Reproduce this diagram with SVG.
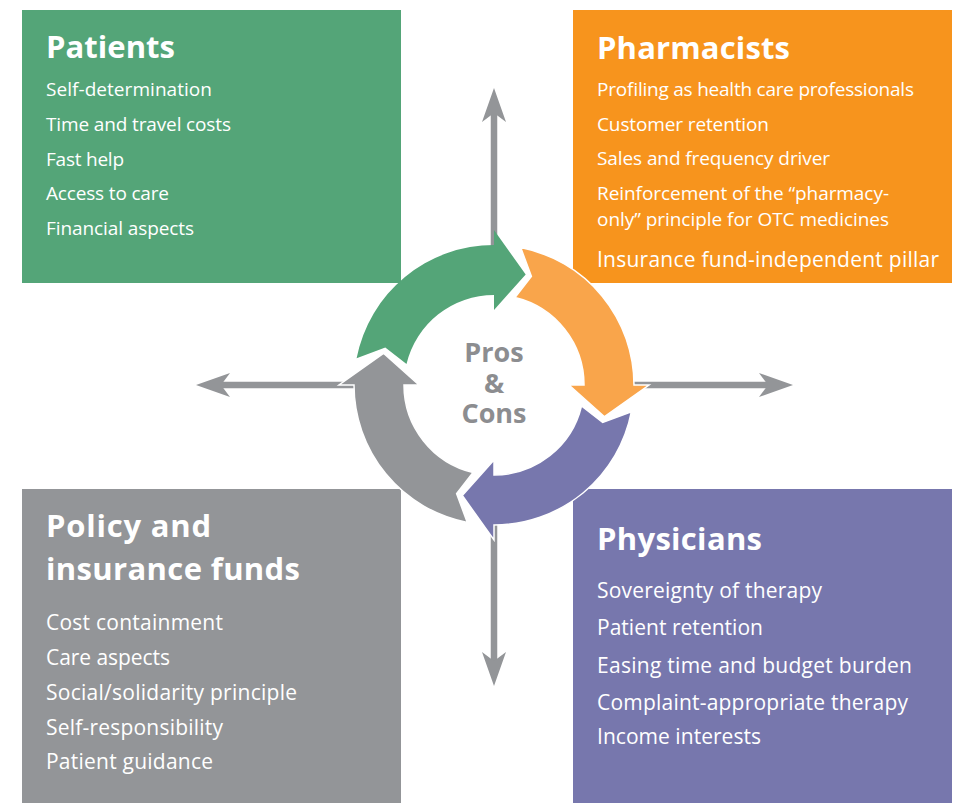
<svg xmlns="http://www.w3.org/2000/svg" width="958" height="803" viewBox="0 0 958 803">
<defs>
<style>
.title{font-family:"Open Sans","Liberation Sans",sans-serif;font-weight:700;font-size:31px;fill:#ffffff}
.item{font-family:"Open Sans","Liberation Sans",sans-serif;font-size:19px;fill:#ffffff}
.big{font-size:21px}
.center{font-family:"Open Sans","Liberation Sans",sans-serif;font-weight:700;font-size:27px;fill:#8c8d90;text-anchor:middle}
.conn{stroke:#939598;stroke-width:6.5;fill:none;marker-end:url(#head)}
</style>
<marker id="head" markerUnits="userSpaceOnUse" viewBox="0 -12 34 24" markerWidth="34" markerHeight="24" refX="9" refY="0" orient="auto">
<path d="M0,-12 L34,0 L0,12 L9,0 Z" fill="#939598"/>
</marker>
<path id="cyc" d="M-137.4,-26.7 A140,140 0 0 1 0,-140 L0,-155 L31.7,-110.5 L0,-75 L0,-90 A90,90 0 0 0 -87.5,-21 L-108.7,-37.4 Z"/>
</defs>
<rect width="958" height="803" fill="#ffffff"/>

<g id="patients">
<rect x="22" y="10" width="379" height="273" fill="#54a578"/>
<text class="title" x="46" y="58" textLength="129">Patients</text>
<text class="item" x="46" y="96" textLength="166">Self-determination</text>
<text class="item" x="46" y="131" textLength="185">Time and travel costs</text>
<text class="item" x="46" y="166" textLength="78">Fast help</text>
<text class="item" x="46" y="200" textLength="123">Access to care</text>
<text class="item" x="46" y="235" textLength="148">Financial aspects</text>
</g>

<g id="pharmacists">
<rect x="573" y="10" width="379" height="273" fill="#f7941d"/>
<text class="title" x="597" y="59" textLength="193">Pharmacists</text>
<text class="item" x="597" y="96" textLength="317">Profiling as health care professionals</text>
<text class="item" x="597" y="131" textLength="172">Customer retention</text>
<text class="item" x="597" y="165" textLength="233">Sales and frequency driver</text>
<text class="item" x="597" y="200" textLength="292">Reinforcement of the “pharmacy-</text>
<text class="item" x="597" y="226" textLength="292">only” principle for OTC medicines</text>
<text class="item big" x="597" y="267" textLength="342">Insurance fund-independent pillar</text>
</g>

<g id="policy">
<rect x="22" y="489" width="379" height="314" fill="#939598"/>
<text class="title" x="46" y="537" textLength="165">Policy and</text>
<text class="title" x="46" y="580" textLength="254">insurance funds</text>
<text class="item big" x="46" y="630" textLength="177">Cost containment</text>
<text class="item big" x="46" y="665" textLength="124">Care aspects</text>
<text class="item big" x="46" y="700" textLength="251">Social/solidarity principle</text>
<text class="item big" x="46" y="735" textLength="177">Self-responsibility</text>
<text class="item big" x="46" y="769" textLength="167">Patient guidance</text>
</g>

<g id="physicians">
<rect x="573" y="489" width="379" height="314" fill="#7777ad"/>
<text class="title" x="597" y="550" textLength="165">Physicians</text>
<text class="item big" x="597" y="598" textLength="225">Sovereignty of therapy</text>
<text class="item big" x="597" y="635" textLength="166">Patient retention</text>
<text class="item big" x="597" y="673" textLength="315">Easing time and budget burden</text>
<text class="item big" x="597" y="710" textLength="311">Complaint-appropriate therapy</text>
<text class="item big" x="597" y="744" textLength="164">Income interests</text>
</g>

<g id="connectors">
<line class="conn" x1="494" y1="265" x2="494" y2="113"/>
<line class="conn" x1="614" y1="385" x2="768" y2="385"/>
<line class="conn" x1="494" y1="505" x2="494" y2="661"/>
<line class="conn" x1="374" y1="385" x2="221" y2="385"/>
</g>

<g id="cycle">
<use href="#cyc" transform="translate(494 385)" fill="#54a578"/>
<use href="#cyc" transform="translate(494 385) rotate(90)" fill="#f9a54b" stroke="#ffffff" stroke-width="1.5"/>
<use href="#cyc" transform="translate(494 385) rotate(180)" fill="#7777ad" stroke="#ffffff" stroke-width="1.5"/>
<use href="#cyc" transform="translate(494 385) rotate(270)" fill="#939598" stroke="#ffffff" stroke-width="1.5"/>
</g>

<g id="center">
<text class="center" x="494" y="362">Pros</text>
<text class="center" x="494" y="393">&amp;</text>
<text class="center" x="494" y="423">Cons</text>
</g>
</svg>
